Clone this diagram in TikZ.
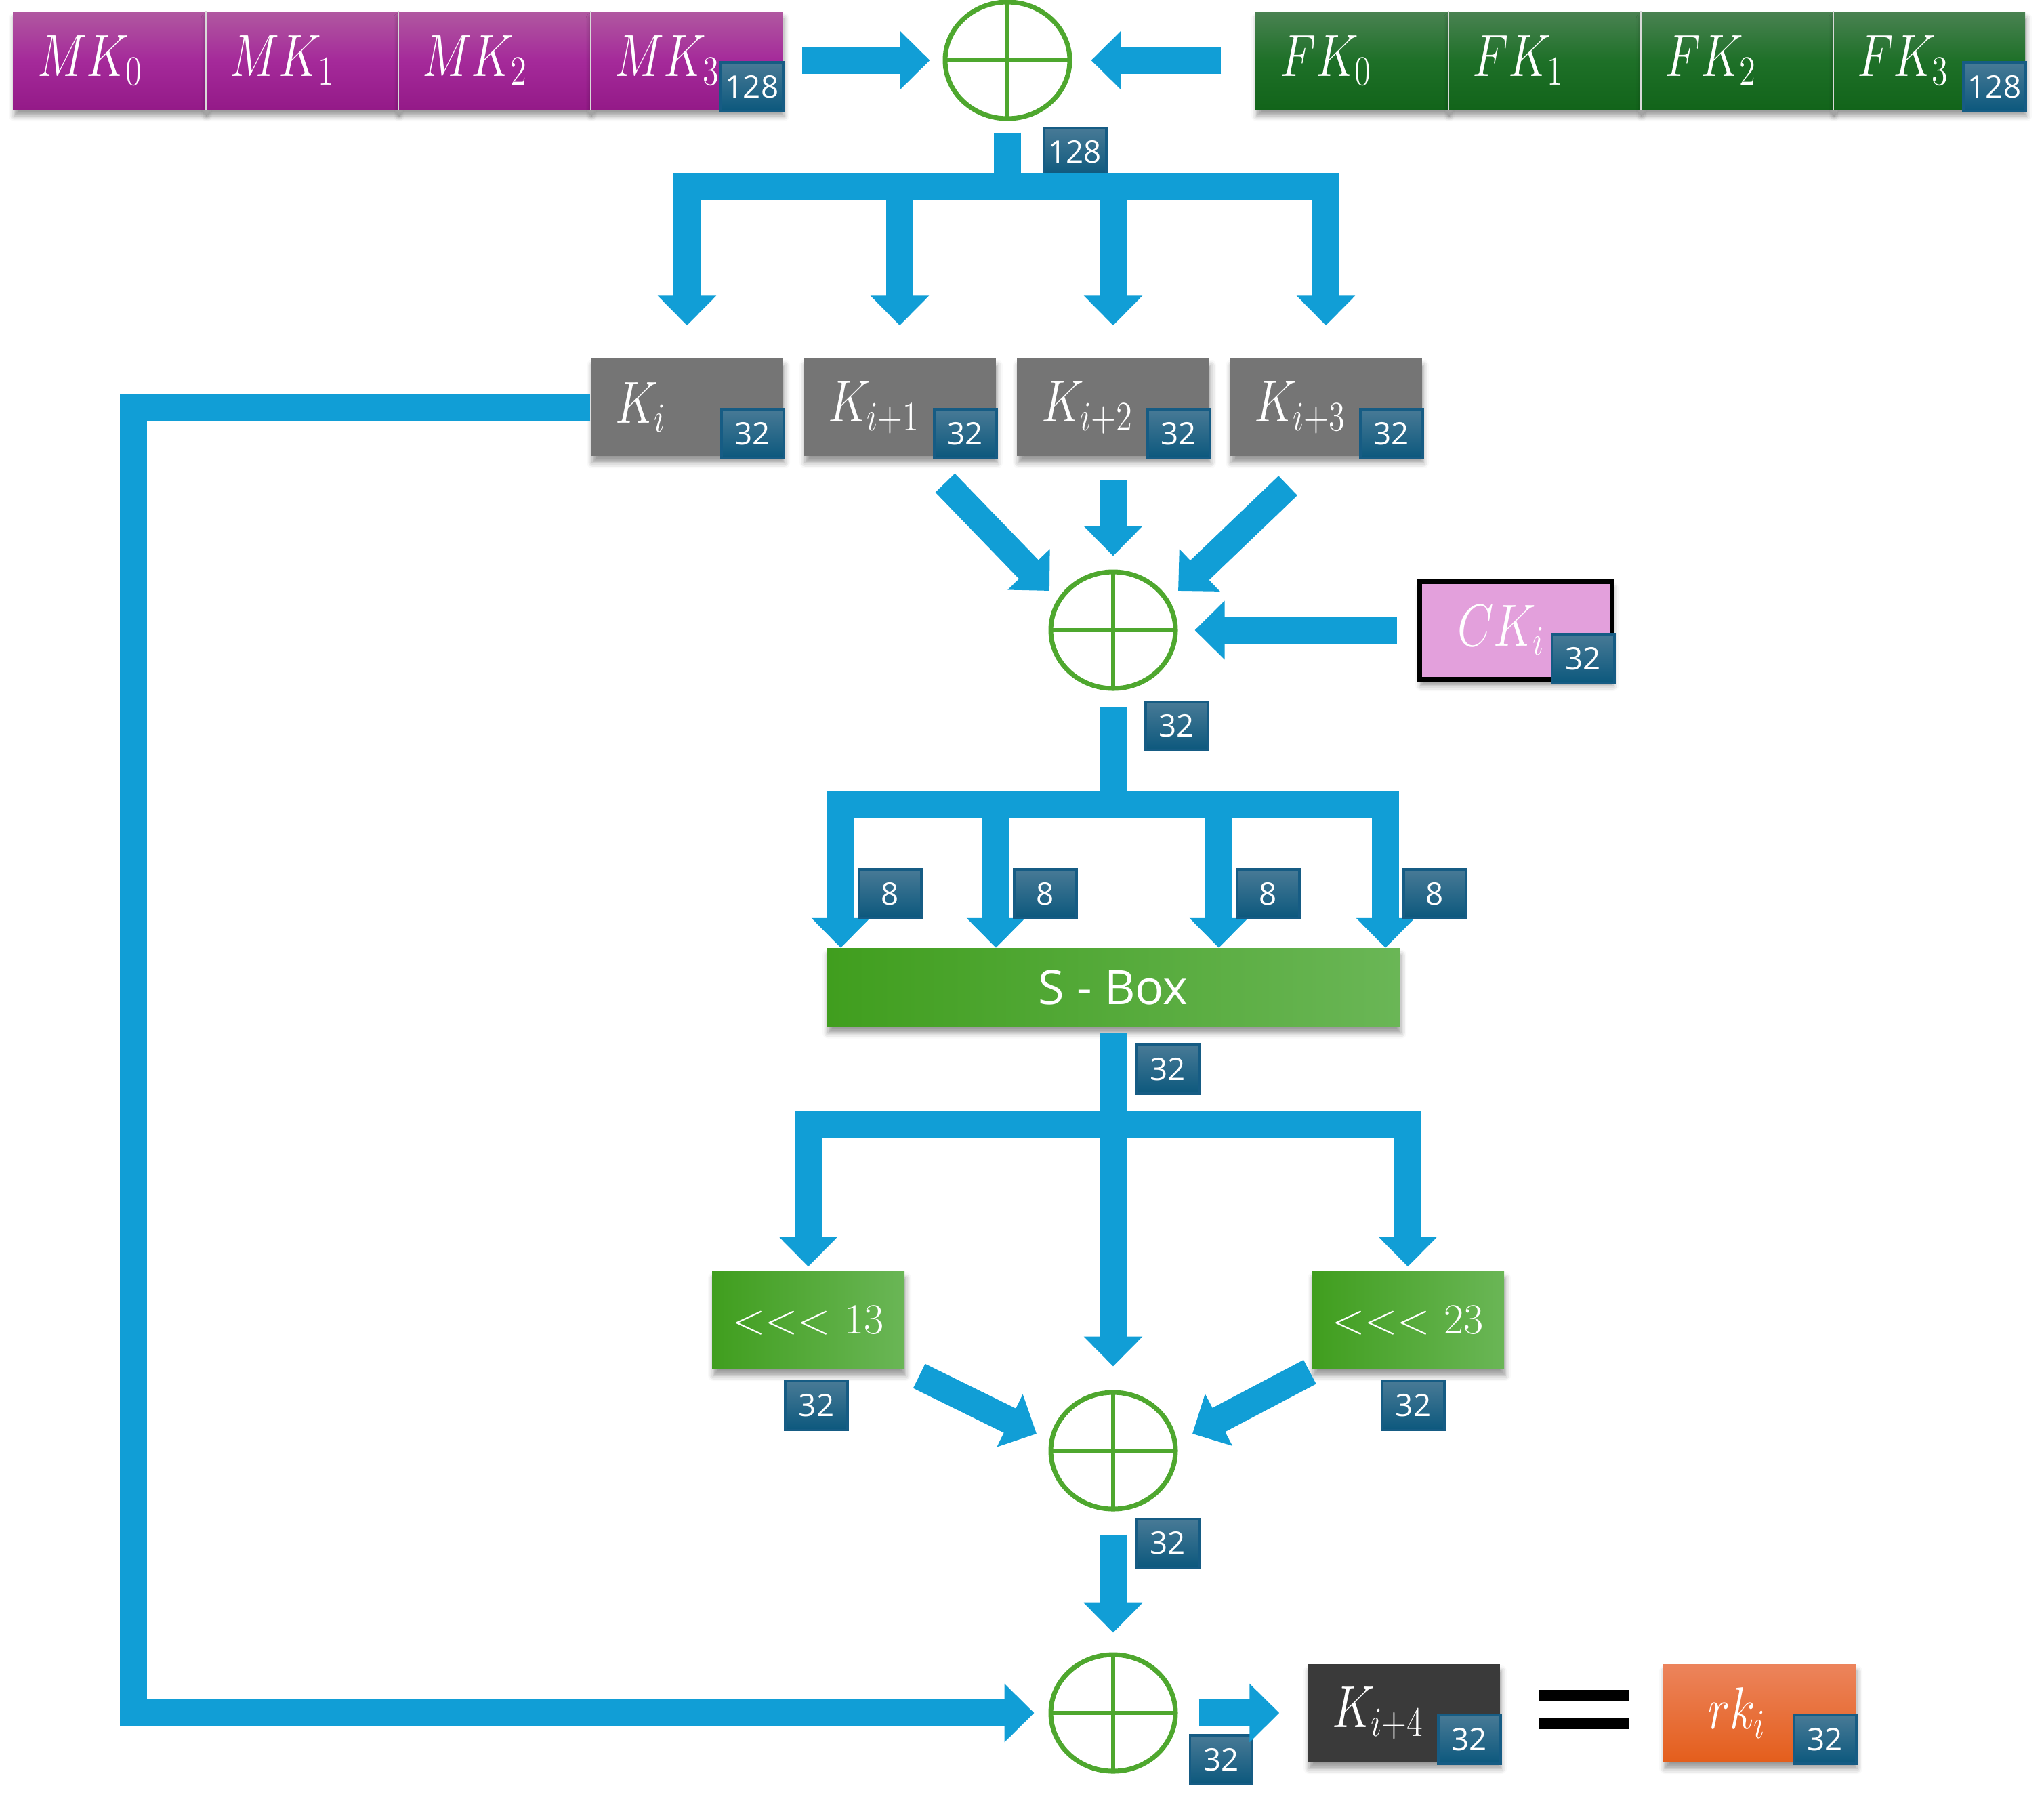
\RequirePackage{fix-cm}
\documentclass[tikz,border=0pt]{standalone}
\usepackage{amsmath}
\usepackage{graphicx}
\usepackage{fontspec}
\setsansfont{Open Sans}
\usetikzlibrary{arrows.meta,shapes.geometric,shadows.blur}

\definecolor{pipeblue}{RGB}{17,158,214}
\definecolor{xorgreen}{RGB}{78,167,46}
\definecolor{mktop}{RGB}{176,88,160}
\definecolor{mkmid}{RGB}{165,42,154}
\definecolor{mkbot}{RGB}{148,26,136}
\definecolor{fktop}{RGB}{74,130,82}
\definecolor{fkmid}{RGB}{30,112,40}
\definecolor{fkbot}{RGB}{18,100,26}
\definecolor{kgray}{RGB}{117,117,117}
\definecolor{kdark}{RGB}{58,58,58}
\definecolor{ckpink}{RGB}{227,160,220}
\definecolor{gleft}{RGB}{64,158,30}
\definecolor{gright}{RGB}{106,182,86}
\definecolor{rktop}{RGB}{236,132,92}
\definecolor{rkbot}{RGB}{228,94,28}
\definecolor{badgetop}{RGB}{72,122,150}
\definecolor{badgebot}{RGB}{12,88,125}
\definecolor{badgeline}{RGB}{22,92,132}

\newcommand{\keytxt}[1]{\scalebox{0.82}[1.04]{$#1$}}

\begin{document}
\begin{tikzpicture}[
    softshadow/.style={blur shadow={shadow xshift=0.02cm, shadow yshift=-0.1cm, shadow blur radius=0.08cm, shadow opacity=40}},
    keybox/.style={minimum width=2.84cm, minimum height=1.44cm, inner xsep=0.36cm, text width=2.12cm, align=left, text=white, font=\fontsize{24}{28}\selectfont, softshadow},
    widebox/.style={keybox, inner xsep=0.66cm, text width=1.52cm},
    mkbox/.style={keybox, top color=mktop, bottom color=mkbot, middle color=mkmid},
    fkbox/.style={keybox, top color=fktop, bottom color=fkbot, middle color=fkmid},
    kbox/.style={keybox, fill=kgray},
    rotbox/.style={keybox, inner xsep=0.1cm, text width=2.64cm, align=center, left color=gleft, right color=gright, font=\fontsize{18}{22}\selectfont},
    sepline/.style={draw=white!70!gray, line width=0.6pt},
    xor/.style={ellipse, draw=xorgreen, line width=2pt, minimum width=1.84cm, minimum height=1.72cm, inner sep=0pt,
        path picture={\draw[xorgreen, line width=1.6pt] (path picture bounding box.north) -- (path picture bounding box.south)
            (path picture bounding box.west) -- (path picture bounding box.east);}},
    badge/.style={top color=badgetop, bottom color=badgebot, draw=badgeline, line width=1pt, minimum width=0.92cm, minimum height=0.72cm, inner sep=0pt, text=white, font=\sffamily\fontsize{13}{15}\selectfont},
    pipe/.style={draw=pipeblue, line width=0.4cm, line join=miter},
    flow/.style={pipe, -{Triangle[width=0.84cm,length=0.44cm]}}
]
\useasboundingbox (0,0) rectangle (30.17,-26.57);

\foreach \i in {0,...,3} {
    \node[mkbox] (mk\i) at (1.61+2.84*\i,-0.89) {\keytxt{MK_\i}};
    \node[fkbox] (fk\i) at (19.95+2.84*\i,-0.89) {\keytxt{FK_\i}};
}
\foreach \i in {0,1,2} {
    \draw[sepline] (mk\i.north east) -- (mk\i.south east);
    \draw[sepline] (fk\i.north east) -- (fk\i.south east);
}
\node[badge, anchor=south east] (mkb) at ([shift={(0.02,-0.04)}]mk3.south east) {128};
\node[badge, anchor=south east] (fkb) at ([shift={(0.02,-0.04)}]fk3.south east) {128};

\node[xor] (xor1) at (14.87,-0.89) {};
\draw[flow] ([xshift=0.28cm]mk3.east) -- ([xshift=-0.19cm]xor1.west);
\draw[flow] ([xshift=-0.5cm]fk0.west) -- ([xshift=0.28cm]xor1.east);

\foreach \i/\x/\t in {0/10.14/{K_i}, 1/13.28/{K_{i+1}}, 2/16.43/{K_{i+2}}, 3/19.57/{K_{i+3}}} {
    \node[kbox] (k\i) at (\x,-6.01) {\keytxt{\t}};
    \node[badge, anchor=south east] (kb\i) at ([shift={(0.02,-0.04)}]k\i.south east) {32};
}

\coordinate (split1) at (14.87,-2.75);
\draw[pipe] ([yshift=-0.17cm]xor1.south) -- (split1);
\node[badge, anchor=north west] (b1) at ([shift={(0.52,-0.08)}]xor1.south) {128};
\foreach \k in {k0,k1,k2,k3}
    \draw[flow] (split1) -| ([yshift=0.48cm]\k.north);

\node[xor] (xor2) at (16.43,-9.30) {};
\node[widebox, inner xsep=0.56cm, text width=1.72cm, fill=ckpink, draw=black, line width=2pt] (ck) at (22.37,-9.30) {\keytxt{CK_i}};
\node[badge, anchor=south east] (ckb) at ([shift={(0.02,-0.04)}]ck.south east) {32};
\draw[flow] ([shift={(0.67,-0.39)}]k1.south) -- ([shift={(-0.94,0.58)}]xor2.center);
\draw[flow] ([yshift=-0.35cm]k2.south) -- ([yshift=0.2cm]xor2.north);
\draw[flow] ([shift={(-0.56,-0.43)}]k3.south) -- ([shift={(0.96,0.58)}]xor2.center);
\draw[flow] ([xshift=-0.3cm]ck.west) -- ([xshift=0.25cm]xor2.east);

\node[minimum width=8.46cm, minimum height=1.15cm, left color=gleft, right color=gright, text=white,
    font=\sffamily\fontsize{20}{24}\selectfont, softshadow] (sbox) at (16.43,-14.57) {S - Box};
\coordinate (split2) at (16.43,-11.87);
\draw[pipe] ([yshift=-0.24cm]xor2.south) -- (split2);
\node[badge, anchor=north west] (b2) at ([shift={(0.46,-0.14)}]xor2.south) {32};
\foreach \dx [count=\n] in {-4.02,-1.73,1.56,4.02} {
    \draw[flow] (split2) -| ([xshift=\dx cm]sbox.north);
    \node[badge, anchor=west] (e\n) at ([shift={(\dx+0.25,0.8)}]sbox.north) {8};
}

\node[rotbox] (rot13) at (11.93,-19.48) {<{}<{}< 13};
\node[rotbox] (rot23) at (20.78,-19.48) {<{}<{}< 23};
\node[badge, anchor=north] (rb13) at ([shift={(0.12,-0.16)}]rot13.south) {32};
\node[badge, anchor=north] (rb23) at ([shift={(0.08,-0.16)}]rot23.south) {32};
\node[xor] (xor3) at (16.43,-21.41) {};

\coordinate (split3) at (16.43,-16.60);
\draw[pipe] ([yshift=-0.1cm]sbox.south) -- (split3);
\node[badge, anchor=north west] (b3) at ([shift={(0.33,-0.25)}]sbox.south) {32};
\draw[flow] (split3) -| ([yshift=0.06cm]rot13.north);
\draw[flow] (split3) -| ([yshift=0.06cm]rot23.north);
\draw[flow] (split3) -- ([yshift=0.35cm]xor3.north);
\draw[flow] ([shift={(0.21,-0.1)}]rot13.south east) -- ([shift={(-1.13,0.25)}]xor3.center);
\draw[flow] ([shift={(-0.02,-0.04)}]rot23.south west) -- ([shift={(1.17,0.25)}]xor3.center);

\node[xor] (xor4) at (16.43,-25.28) {};
\node[badge, anchor=north west] (b4) at ([shift={(0.33,-0.09)}]xor3.south) {32};
\draw[flow] ([yshift=-0.34cm]xor3.south) -- ([yshift=0.29cm]xor4.north);

\coordinate (fbtop) at (1.97,-6.01);
\draw[flow] (k0.west) -- (fbtop) |- ([xshift=-0.21cm]xor4.west);

\node[kbox, fill=kdark] (k4) at (20.72,-25.28) {\keytxt{K_{i+4}}};
\node[badge, anchor=south east] (kb4) at ([shift={(0.02,-0.04)}]k4.south east) {32};
\node[badge, anchor=north west] (b5) at ([shift={(0.16,-0.31)}]xor4.east) {32};
\draw[flow] ([xshift=0.31cm]xor4.east) -- ([xshift=-0.41cm]k4.west);

\node[minimum width=1.33cm, minimum height=0.56cm, inner sep=0pt] (eq) at (23.38,-25.23) {};
\fill (eq.north west) rectangle ([yshift=-0.16cm]eq.north east);
\fill ([yshift=0.16cm]eq.south west) rectangle (eq.south east);

\node[widebox, top color=rktop, bottom color=rkbot] (rk) at (25.97,-25.28) {\keytxt{rk_i}};
\node[badge, anchor=south east] (rkb) at ([shift={(0.02,-0.04)}]rk.south east) {32};
\end{tikzpicture}
\end{document}
